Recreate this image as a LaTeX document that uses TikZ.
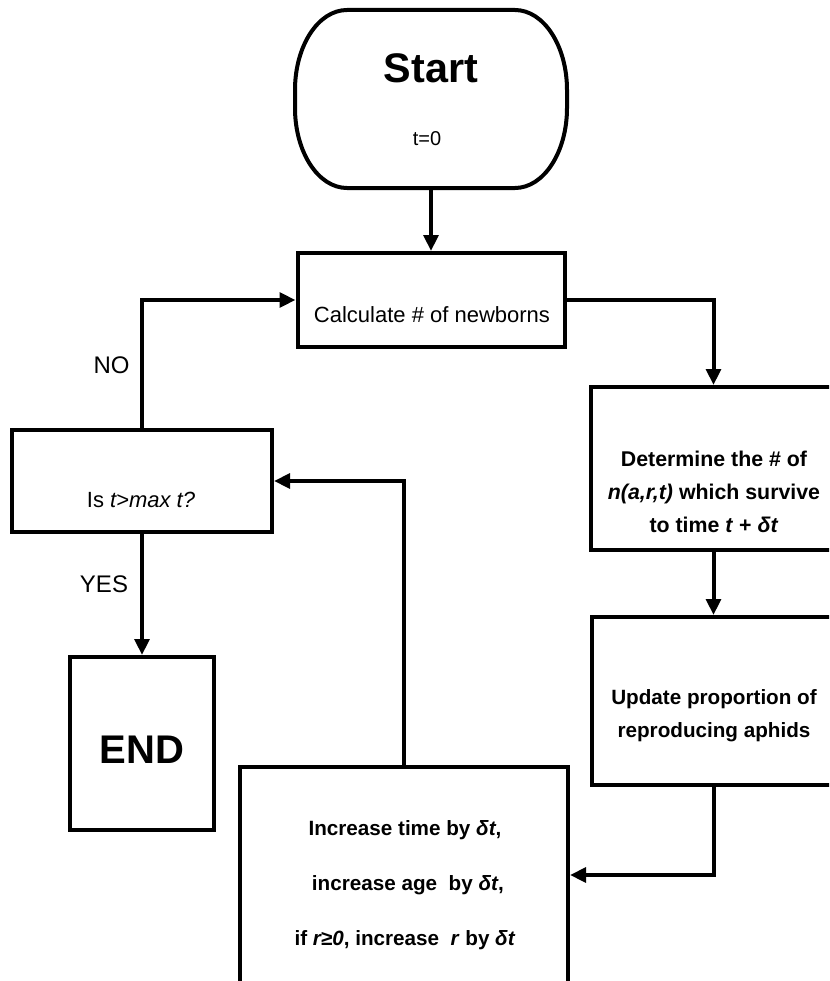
\documentclass[tikz,border=0pt]{standalone}
\usepackage{fontspec}
\setmainfont{Liberation Sans}
\usetikzlibrary{arrows.meta}
\begin{document}
\begin{tikzpicture}[x=0.75pt,y=-0.75pt,
  box/.style={draw, line width=3pt, inner sep=0pt, rectangle},
  conn/.style={line width=3pt, -{Triangle[length=12pt,width=11pt]}},
  txt/.style={inner sep=0pt, text=black},
  reg/.style={txt, font=\fontsize{16.5}{20}\selectfont},
  bld/.style={txt, align=center},
]
\useasboundingbox (0,0) rectangle (829,981);
\clip (0,0) rectangle (829,981);
% start terminal
\node[inner sep=0pt, minimum width=204pt, minimum height=133.5pt] (start) at (431,99) {};
\draw[line width=3pt] (347,10) -- (515,10) .. controls (543.7,10) and (567,45.8) .. (567,90) -- (567,108) .. controls (567,152.2) and (543.7,188) .. (515,188) -- (347,188) .. controls (318.3,188) and (295,152.2) .. (295,108) -- (295,90) .. controls (295,45.8) and (318.3,10) .. (347,10) -- cycle;
% boxes
\node[box, minimum width=200.25pt, minimum height=70.5pt] (calc) at (431,300) {};
\node[box, minimum width=195pt, minimum height=76.5pt] (is) at (142,481) {};
\node[box, minimum width=183.75pt, minimum height=122.25pt] (det) at (713.5,468.5) {};
\node[box, minimum width=182.25pt, minimum height=126pt] (upd) at (713.5,701) {};
\node[box, minimum width=246pt, minimum height=162pt] (inc) at (404,875) {};
\node[box, minimum width=108pt, minimum height=129.75pt] (end) at (142,743.5) {};
% texts
\node[txt, font=\fontsize{31}{31}\selectfont\bfseries, anchor=base] (startT) at (431,83) {Start};
\node[txt, font=\fontsize{15}{15}\selectfont, anchor=base] (t0) at (427,145) {t=0};
\node[reg, anchor=base] (calcT) at (432,322) {Calculate \# of newborns};
\node[reg, anchor=base] (isT) at (141,507) {Is \textit{t>max t?}};
\node[txt, font=\fontsize{18}{18}\selectfont, anchor=base] (noT) at (111.5,373) {NO};
\node[txt, font=\fontsize{18}{18}\selectfont, anchor=base] (yesT) at (104,592) {YES};
\node[txt, font=\fontsize{30}{30}\selectfont\bfseries, anchor=base] (endT) at (142,763) {END};
\node[bld, font=\fontsize{16}{25}\selectfont\bfseries] (detT) at (714,492) {Determine the \# of\\\textit{n(a,r,t)} which survive\\to time \textit{t} + \textit{δt}};
\node[bld, font=\fontsize{15.5}{24.75}\selectfont\bfseries] (updT) at (714,716) {Update proportion of\\reproducing aphids};
\node[bld, font=\fontsize{15.5}{41}\selectfont\bfseries] (incT) at (405,885) {Increase time by \textit{δt},\\\ increase age\ \ by \textit{δt},\\if \textit{r≥0}, increase\ \ \textit{r} by \textit{δt}};
% connectors
\draw[conn] (start.south) -- (calc.north);
\draw[conn] (calc.east) -| (det.north);
\draw[conn] (det.south) -- (upd.north);
\draw[conn] (upd.south) |- (inc.east);
\draw[conn] (inc.north) |- (is.east);
\draw[conn] (is.north) |- (calc.west);
\draw[conn] (is.south) -- (end.north);
\end{tikzpicture}
\end{document}
